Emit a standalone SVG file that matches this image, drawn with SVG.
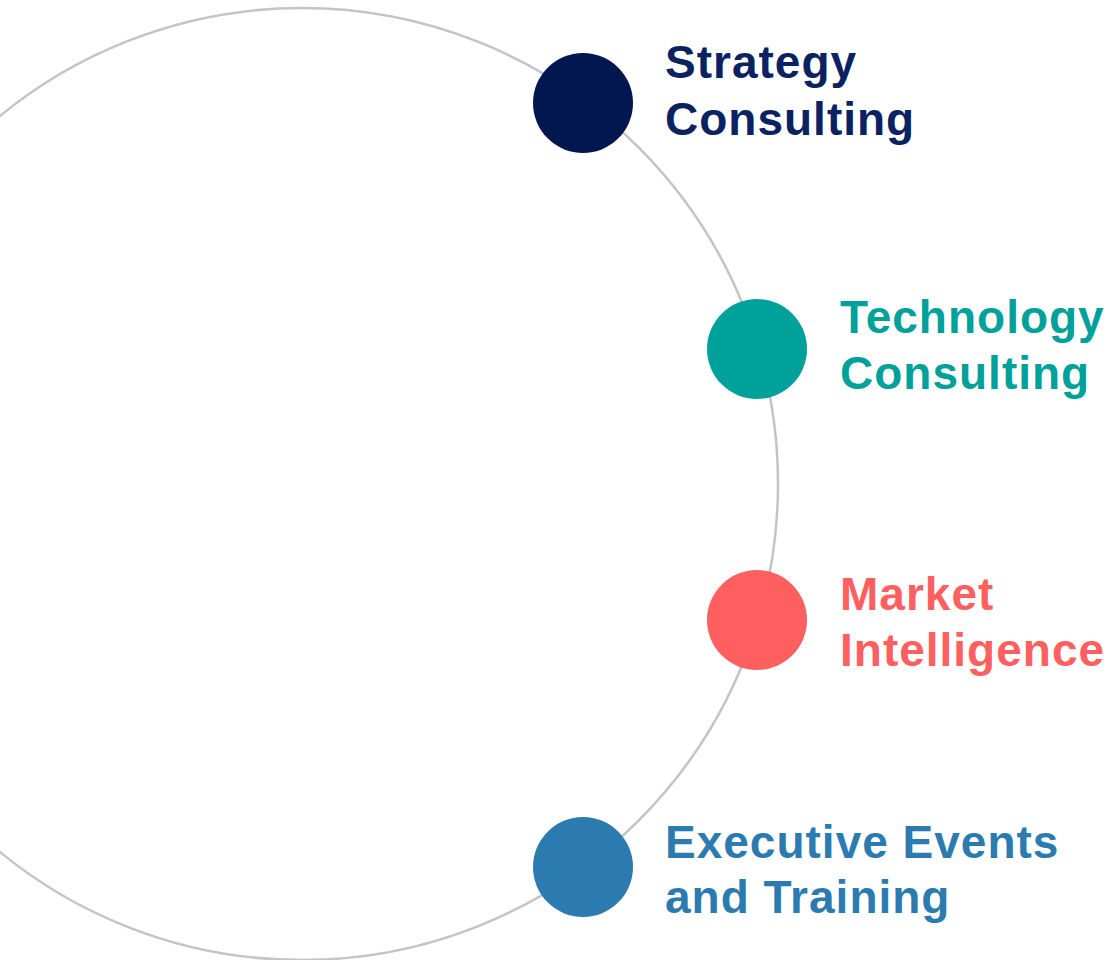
<svg xmlns="http://www.w3.org/2000/svg" width="1111" height="960" viewBox="0 0 1111 960">
<style>
.lbl{font-family:"Liberation Sans",Arial,sans-serif;font-weight:bold;font-size:46px;letter-spacing:1px}
.ring{fill:none;stroke:#C4C4C4;stroke-width:2.5}
</style>
<rect width="1111" height="960" fill="#ffffff"/>
<g id="connectors">
<circle class="ring" cx="302" cy="484" r="476"/>
</g>
<g id="strategy">
<circle cx="583" cy="103" r="50" fill="#021650"/>
<text class="lbl" fill="#0B2262"><tspan x="665" y="78">Strategy</tspan><tspan x="665" y="135">Consulting</tspan></text>
</g>
<g id="technology">
<circle cx="757" cy="349" r="50" fill="#00A19A"/>
<text class="lbl" fill="#00A19A"><tspan x="840" y="333">Technology</tspan><tspan x="840" y="389">Consulting</tspan></text>
</g>
<g id="market">
<circle cx="757" cy="620" r="50" fill="#FF5F5F"/>
<text class="lbl" fill="#FF5F5F"><tspan x="840" y="610">Market</tspan><tspan x="840" y="666">Intelligence</tspan></text>
</g>
<g id="executive">
<circle cx="583" cy="867" r="50" fill="#2C7BB0"/>
<text class="lbl" fill="#2C7BB0"><tspan x="665" y="858">Executive Events</tspan><tspan x="665" y="913">and Training</tspan></text>
</g>
</svg>
